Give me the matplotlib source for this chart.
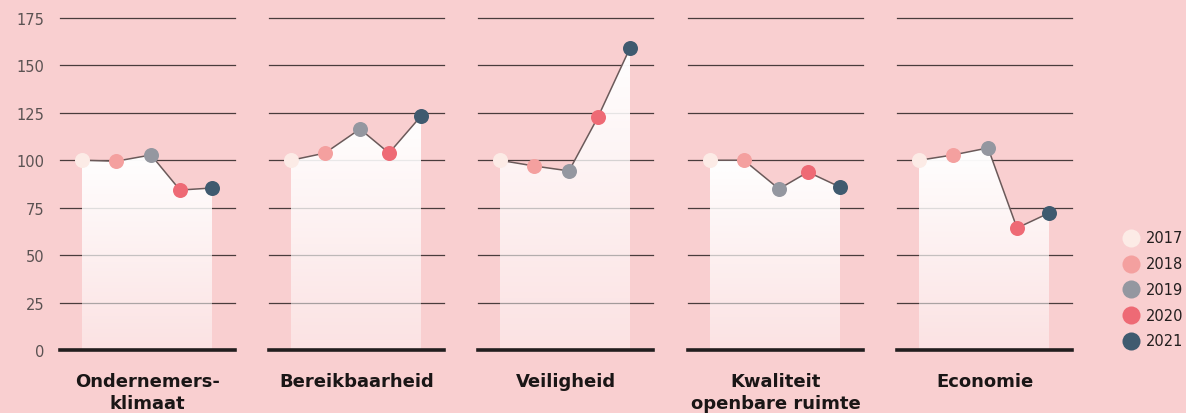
import matplotlib.pyplot as plt
import numpy as np
from matplotlib.lines import Line2D
from matplotlib.patches import Polygon

# data
categories = ["Ondernemers-\nklimaat", "Bereikbaarheid", "Veiligheid",
              "Kwaliteit\nopenbare ruimte", "Economie"]
years = ["2017", "2018", "2019", "2020", "2021"]
ondernemersklimaat = [100, 99.5, 102.8, 84.3, 85.4]
bereikbaarheid = [100, 103.8, 116.5, 103.8, 123.3]
veiligheid = [100, 97, 94.4, 122.8, 159.2]
openbare_ruimte = [100, 100, 84.9, 93.8, 85.9]
economie = [100, 102.8, 106.5, 64.3, 72.2]
yticks = [0, 25, 50, 75, 100, 125, 150, 175]

series = [ondernemersklimaat, bereikbaarheid, veiligheid, openbare_ruimte, economie]
year_colors = ["#fcebe6", "#f4a09f", "#9497a0", "#ee6a75", "#3f5a6f"]
bg = "#f9cfd0"

# horizontal spots of the years inside a panel (the source spaces them unevenly)
xpos = np.array([0, 34, 69, 98, 130]) / 32.5

W, H = 1186, 414
plt.rcParams['font.family'] = ['DejaVu Sans']
fig = plt.figure(figsize=(W / 100, H / 100), dpi=100)
fig.patch.set_facecolor(bg)

panel_left = [60, 269, 478, 688, 897]
pw = 175
y0_px, y1_px = 351, 19

grad = np.ones((256, 1, 4))
grad[:, 0, 3] = np.linspace(1.0, 0.4, 256)

for i, (vals, name) in enumerate(zip(series, categories)):
    ax = fig.add_axes([panel_left[i] / W, (H - y0_px) / H, pw / W, (y0_px - y1_px) / H])
    ax.set_facecolor("none")
    x = xpos
    ax.set_xlim(-22 / 32.5, (pw - 22) / 32.5)
    ax.set_ylim(0, 175)
    for t in yticks[1:]:
        ax.axhline(t, color="#4a3c3c", lw=0.9, zorder=1, clip_on=False)
    ax.axhline(0, color="#221e1e", lw=2.6, zorder=4, clip_on=False)

    # gradient fill under the line
    top = max(vals)
    im = ax.imshow(grad, extent=(x[0], x[-1], 0, top), aspect="auto", zorder=2,
                   interpolation="bilinear")
    poly = Polygon(list(zip(x, vals)) + [(x[-1], 0), (x[0], 0)], closed=True,
                   facecolor="none", edgecolor="none", transform=ax.transData)
    ax.add_patch(poly)
    im.set_clip_path(poly)

    ax.plot(x, vals, color="#6b5a5a", lw=1.1, zorder=3)
    for xi, v, c in zip(x, vals, year_colors):
        ax.plot(xi, v, "o", ms=10.8, color=c, mec="none", zorder=5)

    ax.set_xticks([])
    for s in ax.spines.values():
        s.set_visible(False)
    if i == 0:
        ax.set_yticks(yticks)
        ax.tick_params(axis="y", length=0, pad=11.5, labelsize=10.5, labelcolor="#5a5252")
    else:
        ax.set_yticks([])
    ax.text(0.5, -0.066, name, transform=ax.transAxes, ha="center", va="top",
            fontsize=13, fontweight="bold", color="#1a1616", linespacing=1.3)

# legend
for k, (yr, c) in enumerate(zip(years, year_colors)):
    yy = 1 - (239 + k * 25.7) / H
    fig.add_artist(Line2D([1131 / W], [yy], transform=fig.transFigure, marker="o",
                          ms=13, color=c, mec="none", ls="none"))
    fig.text(1146 / W, yy, yr, ha="left", va="center", fontsize=10.5, color="#221e1e")

fig.savefig("out.png", dpi=100, facecolor=bg)
